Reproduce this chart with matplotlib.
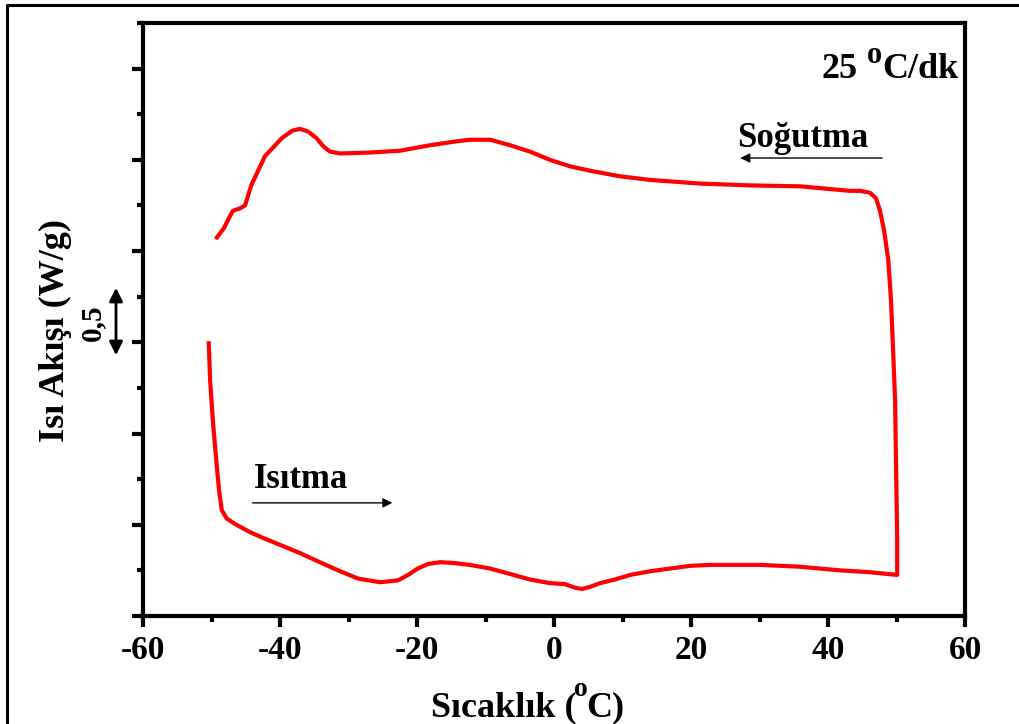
import numpy as np
import matplotlib
matplotlib.use("Agg")
import matplotlib.pyplot as plt
from matplotlib.ticker import MultipleLocator, NullFormatter
from matplotlib.lines import Line2D
from matplotlib.patches import FancyArrowPatch
from matplotlib.transforms import IdentityTransform

# ====== Fonts ======
plt.rcParams['font.family'] = ['Liberation Serif', 'DejaVu Serif']
plt.rcParams['font.weight'] = 'bold'
plt.rcParams['axes.unicode_minus'] = False

W, H = 1019, 724

# --- DSC data: heating run (W/g, arbitrary offset) ---
heat_T = [-50.4, -50.2, -49.8, -49.3, -48.9, -48.5, -47.8, -46.6, -44.4, -42.6,
          -40.0, -37.1, -34.2, -31.2, -28.6, -25.4, -22.8, -21.3, -19.9, -18.4,
          -16.6, -14.5, -12.3, -9.3, -6.4, -3.5, -0.6, 1.6, 2.3, 3.1,
          4.1, 5.3, 6.7, 8.9, 11.1, 14.0, 16.9, 19.9, 22.8, 25.7,
          30.1, 35.9, 41.8, 46.1, 50.1]
heat_Q = [1.495, 1.29, 1.07, 0.85, 0.69, 0.58, 0.535, 0.505, 0.46, 0.43,
          0.39, 0.345, 0.295, 0.245, 0.205, 0.185, 0.195, 0.225, 0.26, 0.285,
          0.295, 0.29, 0.28, 0.26, 0.23, 0.20, 0.18, 0.175, 0.165, 0.155,
          0.148, 0.16, 0.18, 0.20, 0.225, 0.245, 0.26, 0.275, 0.28, 0.28,
          0.28, 0.27, 0.25, 0.24, 0.225]

# --- DSC data: cooling run ---
cool_T = [50.1, 50.1, 49.9, 49.8, 49.5, 49.2, 48.8, 48.2, 47.6, 47.0,
          46.1, 44.7, 43.2, 35.9, 28.6, 21.3, 14.0, 9.6, 5.3, 2.3,
          -0.6, -3.5, -6.4, -9.3, -12.3, -14.5, -18.1, -22.5, -26.9, -31.2,
          -32.7, -33.7, -34.7, -35.9, -37.1, -38.2, -39.7, -41.2, -42.2, -43.2,
          -44.2, -45.1, -45.8, -46.9, -47.6, -48.2, -49.2]
cool_Q = [0.225, 0.42, 0.91, 1.18, 1.46, 1.73, 1.95, 2.11, 2.22, 2.29,
          2.32, 2.33, 2.33, 2.355, 2.36, 2.37, 2.39, 2.41, 2.44, 2.465,
          2.50, 2.545, 2.58, 2.61, 2.61, 2.60, 2.58, 2.55, 2.54, 2.535,
          2.545, 2.575, 2.62, 2.655, 2.67, 2.66, 2.62, 2.56, 2.52, 2.44,
          2.36, 2.25, 2.235, 2.22, 2.17, 2.125, 2.075]

# --- Figure ---
fig = plt.figure(figsize=(W / 100, H / 100), dpi=100)
ax = fig.add_axes([143 / W, 1 - 616 / H, 822 / W, 593 / H])
renderer = fig.canvas.get_renderer()


def rich_text(parts, x, y, ha='left'):
    """Draw text pieces side by side in pixel coords (y from top).
    parts: (string, fontsize, rise_px, gap_before_px)"""
    artists, widths = [], []
    for s, size, rise, gap in parts:
        t = fig.text(0, 0, s, fontsize=size, fontweight='bold', va='baseline',
                     ha='left', transform=IdentityTransform())
        artists.append(t)
        widths.append(t.get_window_extent(renderer).width)
    total = sum(widths) + sum(p[3] for p in parts)
    x0 = {'left': x, 'center': x - total / 2, 'right': x - total}[ha]
    for t, w, (s, size, rise, gap) in zip(artists, widths, parts):
        x0 += gap
        t.set_position((x0, H - y + rise))
        x0 += w


# outer frame (left and top edges)
fig.add_artist(Line2D([7 / W, 7 / W, 1.0], [0.0, 1 - 5 / H, 1 - 5 / H],
                      transform=fig.transFigure, color='black', lw=2.2))

ax.plot(heat_T + cool_T, heat_Q + cool_Q, color='#ff0000', lw=3, solid_joinstyle='round')

ax.set_xlim(-60, 60)
ax.set_ylim(0, 3.25)

for side in ['left', 'bottom', 'right', 'top']:
    ax.spines[side].set_linewidth(3)

ax.xaxis.set_major_locator(MultipleLocator(20))
ax.xaxis.set_minor_locator(MultipleLocator(10))
ax.yaxis.set_major_locator(MultipleLocator(0.5))
ax.yaxis.set_minor_locator(MultipleLocator(0.25))
ax.yaxis.set_major_formatter(NullFormatter())
ax.tick_params(axis='both', which='major', direction='out', length=8, width=3,
               labelsize=24, pad=6)
ax.tick_params(axis='both', which='minor', direction='out', length=4, width=3)
ax.tick_params(top=False, right=False, which='both')

# axis titles
rich_text([('Sıcaklık (', 26, 0, 0), ('o', 20, 20, -3), ('C)', 26, 0, -1)],
          528, 716, ha='center')
fig.text(55 / W, 1 - 331 / H, 'Isı Akışı (W/g)', ha='center', va='center',
         rotation=90, fontsize=26, fontweight='bold')

# 0,5 W/g scale bar
fig.text(92 / W, 1 - 323 / H, '0,5', ha='center', va='center', rotation=90,
         fontsize=21, fontweight='bold')
fig.add_artist(FancyArrowPatch(
    (116 / W, 1 - 285 / H), (116 / W, 1 - 358 / H), transform=fig.transFigure,
    arrowstyle='<|-|>', mutation_scale=20, lw=2, color='black'))

# heating rate and direction labels
rich_text([('25', 26, 0, 0), ('o', 22, 15, 9), ('C/dk', 26, 0, 0)], 958, 78, ha='right')
ax.text(26.8, 2.568, 'Soğutma', ha='left', va='baseline', fontsize=25, fontweight='bold')
ax.annotate('', xy=(26.8, 2.51), xytext=(48.3, 2.51),
            arrowprops=dict(arrowstyle='-|>', lw=1, color='black', mutation_scale=14))
ax.text(-43.8, 0.70, 'Isıtma', ha='left', va='baseline', fontsize=25, fontweight='bold')
ax.annotate('', xy=(-23.2, 0.62), xytext=(-44.4, 0.62),
            arrowprops=dict(arrowstyle='-|>', lw=1, color='black', mutation_scale=14))

fig.savefig('out.png', dpi=100)
